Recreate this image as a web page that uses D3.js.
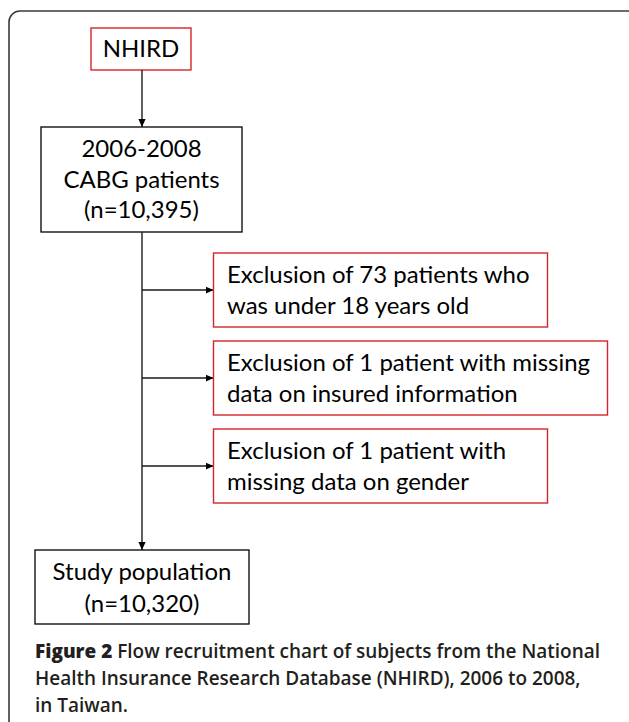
<!DOCTYPE html>
<html>
<head>
<meta charset="utf-8">
<script src="https://cdn.jsdelivr.net/npm/d3@7"></script>
<style>
  html, body { margin: 0; padding: 0; background: #ffffff; }
  svg { display: block; }
</style>
</head>
<body>
<svg id="chart" width="629" height="722"></svg>
<script>
// ---------- data ----------
const sourceLabel = ["NHIRD"];
const cohortLines = ["2006-2008", "CABG patients", "(n=10,395)"];
const exclusionCounts = [73, 1, 1];
const exclusionLines = [
  ["Exclusion of 73 patients who", "was under 18 years old"],
  ["Exclusion of 1 patient with missing", "data on insured information"],
  ["Exclusion of 1 patient with", "missing data on gender"]
];
const finalLines = ["Study population", "(n=10,320)"];
const captionBold = "Figure 2";
const captionLines = [
  " Flow recruitment chart of subjects from the National",
  "Health Insurance Research Database (NHIRD), 2006 to 2008,",
  "in Taiwan."
];

// ---------- layout ----------
const svg = d3.select("#chart");
const boxFont = "Lato, 'Open Sans', sans-serif";
const capFont = "'Open Sans', 'Noto Sans', sans-serif";
const boxSize = 23;
const red = "#d3252b";
const mainX = 142;

// horizontal compression so the substitute font matches the reference widths
function squeeze(sel, k) {
  sel.each(function () {
    const w = this.getComputedTextLength();
    this.setAttribute("textLength", w * k);
    this.setAttribute("lengthAdjust", "spacingAndGlyphs");
  });
}

const probe = svg.append("text").attr("font-family", boxFont).attr("font-size", boxSize)
  .text(exclusionLines[1][0]);
const kBox = 363 / probe.node().getComputedTextLength();
probe.remove();

// outer frame (clipped by the window at right and bottom)
svg.append("rect")
  .attr("x", 9).attr("y", 11).attr("width", 630).attr("height", 730)
  .attr("rx", 11).attr("ry", 11)
  .attr("fill", "none").attr("stroke", "#3a3a3a").attr("stroke-width", 1.6);

// arrow marker
svg.append("defs").append("marker")
  .attr("id", "arr").attr("viewBox", "0 0 10 10")
  .attr("refX", 10).attr("refY", 5)
  .attr("markerWidth", 8).attr("markerHeight", 8)
  .attr("markerUnits", "userSpaceOnUse")
  .attr("orient", "auto")
  .append("path").attr("d", "M0,0.5 L10,5 L0,9.5 Z").attr("fill", "#000");

const lineStroke = "#1a1a1a";

// --- NHIRD box ---
svg.append("rect").attr("x", 91).attr("y", 28).attr("width", 100).attr("height", 42)
  .attr("fill", "#fff").attr("stroke", red).attr("stroke-width", 1.4);
svg.append("text").attr("x", 141).attr("y", 57).attr("text-anchor", "middle")
  .attr("font-family", boxFont).attr("font-size", boxSize).attr("fill", "#000")
  .text(sourceLabel[0]).call(squeeze, kBox);

// arrow NHIRD -> cohort
svg.append("line").attr("x1", mainX).attr("y1", 70).attr("x2", mainX).attr("y2", 127)
  .attr("stroke", lineStroke).attr("stroke-width", 1.4).attr("marker-end", "url(#arr)");

// --- Cohort box ---
svg.append("rect").attr("x", 41).attr("y", 127).attr("width", 201).attr("height", 105)
  .attr("fill", "#fff").attr("stroke", "#000").attr("stroke-width", 1.3);
const cohortY = d3.scalePoint().domain(d3.range(cohortLines.length)).range([157, 218]);
svg.append("g").selectAll("text").data(cohortLines).join("text")
  .attr("x", 141.5).attr("y", (d, i) => cohortY(i)).attr("text-anchor", "middle")
  .attr("font-family", boxFont).attr("font-size", boxSize).attr("fill", "#000")
  .text(d => d).call(squeeze, kBox);

// main vertical line -> final box
svg.append("line").attr("x1", mainX).attr("y1", 232).attr("x2", mainX).attr("y2", 550)
  .attr("stroke", lineStroke).attr("stroke-width", 1.4).attr("marker-end", "url(#arr)");

// --- Exclusion boxes ---
const exY = d3.scalePoint().domain(d3.range(exclusionCounts.length)).range([290, 466]);
const exWidths = [334, 394, 334];
const exBoxH = 74;
const exG = svg.append("g").selectAll("g").data(exclusionLines).join("g");
exG.append("line")
  .attr("x1", mainX).attr("x2", 213.5)
  .attr("y1", (d, i) => exY(i)).attr("y2", (d, i) => exY(i))
  .attr("stroke", lineStroke).attr("stroke-width", 1.3).attr("marker-end", "url(#arr)");
exG.append("rect")
  .attr("x", 213.5).attr("y", (d, i) => exY(i) - exBoxH / 2)
  .attr("width", (d, i) => exWidths[i]).attr("height", exBoxH)
  .attr("fill", "#fff").attr("stroke", red).attr("stroke-width", 1.4);
exG.each(function (lines, i) {
  d3.select(this).selectAll("text").data(lines).join("text")
    .attr("x", 227).attr("y", (d, j) => exY(i) - 7 + j * 31)
    .attr("font-family", boxFont).attr("font-size", boxSize).attr("fill", "#000")
    .text(d => d).call(squeeze, kBox);
});

// --- Final box ---
svg.append("rect").attr("x", 35).attr("y", 550).attr("width", 214).attr("height", 74)
  .attr("fill", "#fff").attr("stroke", "#000").attr("stroke-width", 1.3);
svg.append("g").selectAll("text").data(finalLines).join("text")
  .attr("x", 142).attr("y", (d, i) => 580 + i * 32).attr("text-anchor", "middle")
  .attr("font-family", boxFont).attr("font-size", boxSize).attr("fill", "#000")
  .text(d => d).call(squeeze, kBox);

// --- Caption ---
const capSize = 20;
const capColor = "#231f20";
const cap = svg.append("g");
const c1 = cap.append("text").attr("x", 35).attr("y", 658)
  .attr("font-family", capFont).attr("font-size", capSize).attr("fill", capColor);
c1.append("tspan").attr("font-weight", 800).text(captionBold);
c1.append("tspan").attr("font-weight", 600).text(captionLines[0]);
const w1 = c1.node().getComputedTextLength();
const kCap = 565 / w1;
c1.attr("textLength", w1 * kCap).attr("lengthAdjust", "spacingAndGlyphs");
cap.selectAll("text.l").data(captionLines.slice(1)).join("text").attr("class", "l")
  .attr("x", 35).attr("y", (d, i) => 685 + i * 27)
  .attr("font-family", capFont).attr("font-size", capSize).attr("font-weight", 600).attr("fill", capColor)
  .text(d => d).call(squeeze, kCap);
</script>
</body>
</html>
